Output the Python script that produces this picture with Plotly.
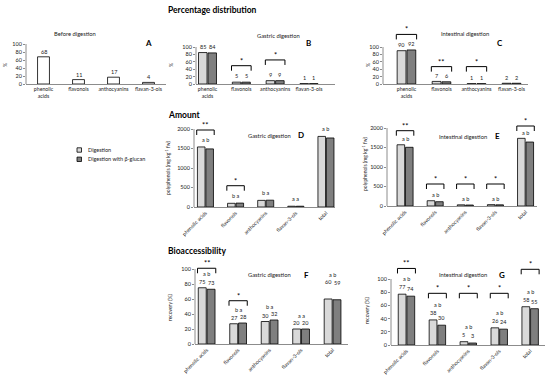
import plotly.graph_objects as go

W, H = 550, 384
FONT = "Lato"
LIGHT = "#d9d9d9"
DARK = "#7f7f7f"
AXC = "#8c8c8c"
TXT = "#222222"

# ---------------- data ----------------
pct_categories = ["phenolic<br>acids", "flavonols", "anthocyanins", "flavan-3-ols"]
cmp_categories = ["phenolic acids", "flavonols", "anthocyanins", "flavan-3-ols", "total"]
series_names = ["Digestion", "Digestion with β-glucan"]

pct_before = [68, 11, 17, 4]
pct_gastric_dig = [85, 5, 9, 1]
pct_gastric_bg = [84, 5, 9, 1]
pct_intest_dig = [90, 7, 1, 2]
pct_intest_bg = [92, 6, 1, 2]

amt_gastric_dig = [1540, 95, 170, 20, 1810]
amt_gastric_bg = [1490, 100, 175, 20, 1770]
amt_intest_dig = [1570, 135, 30, 35, 1735]
amt_intest_bg = [1505, 110, 25, 30, 1640]

rec_gastric_dig = [75, 27, 30, 20, 60]
rec_gastric_bg = [73, 28, 32, 20, 59]
rec_intest_dig = [77, 38, 5, 26, 58]
rec_intest_bg = [74, 30, 3, 24, 55]

letters_amt_gastric = ["a b", "b a", "b a", "a a", "a b"]
letters_amt_intest = ["a b", "a b", "a b", "a b", "a b"]
letters_rec_gastric = ["a b", "b a", "b a", "a a", "a b"]
letters_rec_intest = ["a b", "a b", "a b", "a b", "a b"]

# significance: (category index, stars, bracket level in data units)
sig_pct_gastric = [(1, "*", 49.5), (2, "*", 65)]
sig_pct_intest = [(0, "*", 134), (1, "**", 47), (2, "*", 47)]
sig_amt_gastric = [(0, "**", 1974), (1, "*", 546)]
sig_amt_intest = [(0, "**", 1931), (1, "*", 564), (2, "*", 564), (3, "*", 564), (4, "*", 2051)]
sig_rec_gastric = [(0, "**", 101), (1, "*", 57.7)]
sig_rec_intest = [(0, "**", 116), (1, "*", 78.3), (2, "*", 78.3), (3, "*", 78.3), (4, "*", 114.7)]

# ---------------- panel geometry (pixels) ----------------
panels = [
    dict(key="A", x=(26, 166), xr=(-0.5, 3.5), y0=84, ppu=0.40, ymax=100,
         yt=[0, 20, 40, 60, 80, 100], cats=pct_categories, series=[pct_before],
         angle=0, numbers=True, num_shift=5, letters=None, sig=[],
         title="Before digestion", tpos=(74.7, 33.3), lpos=(148, 42.7),
         ylab="%", ylpos=(5, 65)),
    dict(key="B", x=(196, 335), xr=(-0.34, 3.77), y0=84, ppu=0.37, ymax=135,
         yt=[0, 20, 40, 60, 80, 100], cats=pct_categories,
         series=[pct_gastric_dig, pct_gastric_bg],
         angle=0, numbers=True, num_shift=6, letters=None, sig=sig_pct_gastric,
         title="Gastric digestion", tpos=(278, 35), lpos=(308, 42.5),
         ylab="%", ylpos=(171, 65)),
    dict(key="C", x=(383, 528), xr=(-0.67, 3.47), y0=84, ppu=0.37, ymax=150,
         yt=[0, 20, 40, 60, 80, 100], cats=pct_categories,
         series=[pct_intest_dig, pct_intest_bg],
         angle=0, numbers=True, num_shift=5.5, letters=None, sig=sig_pct_intest,
         title="Intestinal digestion", tpos=(464.5, 33.7), lpos=(500, 43),
         ylab="%", ylpos=(368, 65)),
    dict(key="D", x=(194, 335), xr=(-0.38, 4.3), y0=207, ppu=0.039, ymax=2350,
         yt=[0, 500, 1000, 1500, 2000], cats=cmp_categories,
         series=[amt_gastric_dig, amt_gastric_bg],
         angle=-45, numbers=False, num_shift=0, letters=letters_amt_gastric,
         let_shift=7, sig=sig_amt_gastric,
         title="Gastric digestion", tpos=(269, 135.5), lpos=(301, 135.5),
         ylab="polyphenols (mg kg<sup>-1</sup> fw)", ylpos=(168, 168)),
    dict(key="E", x=(387, 537), xr=(-0.6, 4.38), y0=206, ppu=0.039, ymax=2350,
         yt=[0, 500, 1000, 1500, 2000], cats=cmp_categories,
         series=[amt_intest_dig, amt_intest_bg],
         angle=-45, numbers=False, num_shift=0, letters=letters_amt_intest,
         let_shift=5.5, sig=sig_amt_intest,
         title="Intestinal digestion", tpos=(462.5, 136), lpos=(497, 136),
         ylab="polyphenols (mg kg<sup>-1</sup> fw)", ylpos=(365, 164)),
    dict(key="F", x=(195, 348), xr=(-0.37, 4.49), y0=344, ppu=0.75, ymax=110,
         yt=[0, 20, 40, 60, 80, 100], cats=cmp_categories,
         series=[rec_gastric_dig, rec_gastric_bg],
         angle=-45, numbers=True, num_shift=6, num_override={4: 17},
         letters=letters_rec_gastric, let_shift=7.5, sig=sig_rec_gastric,
         title="Gastric digestion", tpos=(269, 274.3), lpos=(306, 275),
         ylab="recovery (%)", ylpos=(170, 307)),
    dict(key="G", x=(391, 545), xr=(-0.5, 4.48), y0=345, ppu=0.66, ymax=130,
         yt=[0, 20, 40, 60, 80, 100], cats=cmp_categories,
         series=[rec_intest_dig, rec_intest_bg],
         angle=-45, numbers=True, num_shift=7, letters=letters_rec_intest,
         let_shift=8, sig=sig_rec_intest,
         title="Intestinal digestion", tpos=(463, 274.3), lpos=(501.7, 275),
         ylab="recovery (%)", ylpos=(367, 310)),
]

BARGAP = 0.44
GROUPGAP = 0.1
half = (1 - BARGAP) / 4.0

fig = go.Figure()
layout = dict(
    width=W, height=H, margin=dict(l=0, r=0, t=0, b=0),
    paper_bgcolor="white", plot_bgcolor="rgba(0,0,0,0)",
    barmode="group", bargap=BARGAP, bargroupgap=GROUPGAP,
    showlegend=False, font=dict(family=FONT, size=6, color=TXT),
)
shapes = []
annotations = []


def px(xp, yp):
    return xp / W, 1 - yp / H


for k, p in enumerate(panels):
    n = k + 1
    sx = "" if n == 1 else str(n)
    xa, ya = "x" + sx, "y" + sx
    top = p["y0"] - p["ymax"] * p["ppu"]
    xdom = [p["x"][0] / W, p["x"][1] / W]
    ydom = [1 - p["y0"] / H, 1 - top / H]
    ncat = len(p["cats"])
    idx = list(range(ncat))

    layout["xaxis" + sx] = dict(
        domain=xdom, anchor=ya, range=list(p["xr"]), tickvals=idx,
        ticktext=p["cats"], tickangle=p["angle"], showline=True,
        linecolor=AXC, linewidth=1, ticks="", showgrid=False, zeroline=False,
        tickfont=dict(size=5.2, color=TXT), fixedrange=True,
        ticklabeloverflow="allow", automargin=False,
    )
    layout["yaxis" + sx] = dict(
        domain=ydom, anchor=xa, range=[0, p["ymax"]], tickvals=p["yt"],
        showline=False, ticks="outside", ticklen=2, tickcolor=AXC, tickwidth=1,
        showgrid=False, zeroline=False, tickfont=dict(size=5.5, color=TXT),
        fixedrange=True, ticklabeloverflow="allow", automargin=False,
    )
    # y axis line (only up to top tick)
    shapes.append(dict(type="line", xref="paper", yref=ya + " domain",
                       x0=xdom[0], x1=xdom[0], y0=0, y1=p["yt"][-1] / p["ymax"],
                       line=dict(color=AXC, width=1)))

    if len(p["series"]) == 1:
        fig.add_trace(go.Bar(
            x=idx, y=p["series"][0], xaxis=xa, yaxis=ya, width=0.34,
            marker=dict(color="white", line=dict(color="black", width=0.8)),
            showlegend=False, hoverinfo="skip"))
        offsets = [0.0]
    else:
        for s, vals in enumerate(p["series"]):
            fig.add_trace(go.Bar(
                x=idx, y=vals, xaxis=xa, yaxis=ya, name=series_names[s],
                marker=dict(color=[LIGHT, DARK][s], line=dict(color="black", width=0.8)),
                showlegend=False, hoverinfo="skip"))
        offsets = [-half, half]

    # number labels
    ovr = p.get("num_override", {})
    if p["numbers"]:
        for s, vals in enumerate(p["series"]):
            for i, v in enumerate(vals):
                annotations.append(dict(
                    xref=xa, yref=ya, x=i + offsets[s], y=v, text=str(v),
                    showarrow=False, yanchor="middle", yshift=ovr.get(i, p["num_shift"]),
                    font=dict(size=5.5, color=TXT)))
    # letters
    if p["letters"]:
        for i, lt in enumerate(p["letters"]):
            vmax = max(sr[i] for sr in p["series"])
            base = ovr.get(i, p["num_shift"]) if p["numbers"] else 0
            annotations.append(dict(
                xref=xa, yref=ya, x=i, y=vmax, text=lt, showarrow=False,
                yanchor="middle", yshift=base + p["let_shift"],
                font=dict(size=5.5, color=TXT)))
    # significance brackets
    tick_len = 5 / p["ppu"]
    for (i, stars, lvl) in p["sig"]:
        xl, xr_ = i - 0.29, i + 0.29
        shapes.append(dict(
            type="path", xref=xa, yref=ya,
            path=f"M {xl},{lvl - tick_len} L {xl},{lvl} L {xr_},{lvl} L {xr_},{lvl - tick_len}",
            line=dict(color="black", width=1)))
        annotations.append(dict(
            xref=xa, yref=ya, x=i, y=lvl, text=stars, showarrow=False,
            yanchor="bottom", yshift=-2, font=dict(size=7.5, color="black")))

    # titles and panel letters
    tx, ty = px(*p["tpos"])
    annotations.append(dict(xref="paper", yref="paper", x=tx, y=ty, text=p["title"],
                            showarrow=False, xanchor="center", yanchor="middle",
                            font=dict(size=5.8, color=TXT)))
    lx, ly = px(*p["lpos"])
    annotations.append(dict(xref="paper", yref="paper", x=lx, y=ly, text="<b>" + p["key"] + "</b>",
                            showarrow=False, xanchor="center", yanchor="middle",
                            font=dict(size=8, color="black")))
    yx, yy = px(*p["ylpos"])
    annotations.append(dict(xref="paper", yref="paper", x=yx, y=yy, text=p["ylab"],
                            showarrow=False, xanchor="center", yanchor="middle",
                            textangle=-90, font=dict(size=5, color=TXT)))

# section headers
for text, (hx, hy) in [("Percentage distribution", (166, 9.5)),
                       ("Amount", (166, 115)),
                       ("Bioaccessibility", (166, 251))]:
    x_, y_ = px(hx, hy)
    annotations.append(dict(xref="paper", yref="paper", x=x_, y=y_, text="<b>" + text + "</b>",
                            showarrow=False, xanchor="left", yanchor="middle",
                            font=dict(size=8.5, color="black")))

# legend (custom, small swatches)
for s, (ly_px) in enumerate([150, 159.3]):
    x0, y0 = px(77, ly_px - 2.2)
    x1, y1 = px(81.5, ly_px + 2.2)
    shapes.append(dict(type="rect", xref="paper", yref="paper", x0=x0, x1=x1, y0=y1, y1=y0,
                       fillcolor=[LIGHT, DARK][s], line=dict(color="black", width=0.8)))
    tx, ty = px(86, ly_px)
    annotations.append(dict(xref="paper", yref="paper", x=tx, y=ty, text=series_names[s],
                            showarrow=False, xanchor="left", yanchor="middle",
                            font=dict(size=5.5, color=TXT)))

layout["shapes"] = shapes
layout["annotations"] = annotations
fig.update_layout(**layout)
fig.write_html(
    "out.html",
    config={"displayModeBar": False, "staticPlot": True},
    post_script="document.body.style.margin='0';document.body.style.padding='0';"
                "document.documentElement.style.overflow='hidden';",
)
